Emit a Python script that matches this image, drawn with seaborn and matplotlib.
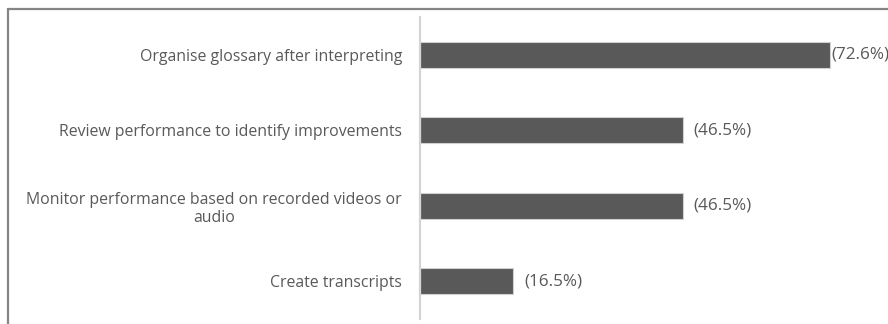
import matplotlib
matplotlib.use("Agg")
import matplotlib.pyplot as plt
from matplotlib.lines import Line2D
import seaborn as sns
import pandas as pd

# Survey activities and share of respondents (%)
activities = [
    "Organise glossary after interpreting",
    "Review performance to identify improvements",
    "Monitor performance based on recorded videos or\naudio",
    "Create transcripts",
]
shares = [72.6, 46.5, 46.5, 16.5]
value_labels = ["(72.6%)", "(46.5%)", "(46.5%)", "(16.5%)"]

df = pd.DataFrame({"activity": activities, "share": shares})

sns.set_theme(style="white")
plt.rcParams["font.family"] = ["Open Sans", "DejaVu Sans"]

W, H, DPI = 888, 324, 100
fig = plt.figure(figsize=(W / DPI, H / DPI), dpi=DPI)
fig.patch.set_facecolor("white")

# plot area in pixel terms
left_px, right_px, top_px, bottom_px = 420, 874, 17, 319
ax = fig.add_axes([left_px / W, 1 - bottom_px / H,
                   (right_px - left_px) / W, (bottom_px - top_px) / H])

sns.barplot(data=df, x="share", y="activity", orient="h", ax=ax,
            color="#595959", saturation=1, width=0.345,
            edgecolor="#d0d0d0", linewidth=0.8)

ax.set_xlim(0, 80.4)
ax.set_xlabel("")
ax.set_ylabel("")
ax.set_xticks([])

for side in ["top", "right", "bottom"]:
    ax.spines[side].set_visible(False)
ax.spines["left"].set_color("#d4d4d4")
ax.spines["left"].set_linewidth(1.6)

ax.tick_params(axis="y", length=0, pad=13, labelsize=11.4, labelcolor="#595959")
for lbl in ax.get_yticklabels():
    lbl.set_multialignment("center")
    lbl.set_linespacing(1.15)

# value labels next to each bar
pads = [1, 11, 11, 11]
for i, (v, txt) in enumerate(zip(shares, value_labels)):
    ax.annotate(txt, xy=(v, i), xytext=(pads[i], 0), textcoords="offset pixels",
                ha="left", va="center", fontsize=12.3, color="#595959",
                annotation_clip=False)

# outer frame (top and left edges)
bx, by = 8 / W, 1 - 9 / H
fig.add_artist(Line2D([bx, 1.0], [by, by], transform=fig.transFigure,
                      color="#858585", linewidth=1.6))
fig.add_artist(Line2D([bx, bx], [by, 0.0], transform=fig.transFigure,
                      color="#858585", linewidth=1.6))

fig.savefig("out.png", dpi=DPI, facecolor="white")
